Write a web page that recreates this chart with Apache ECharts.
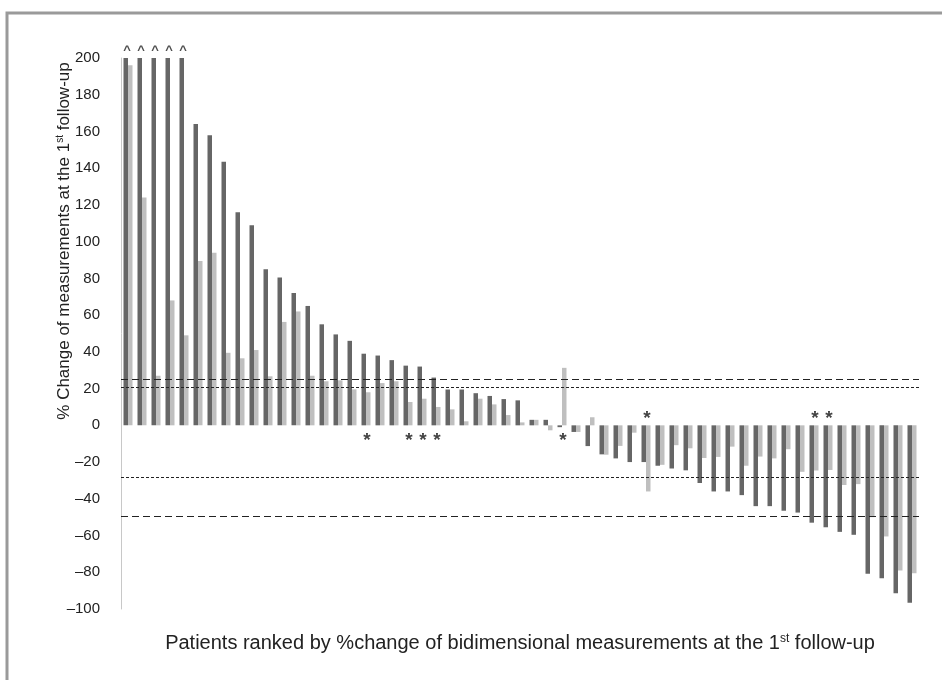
<!DOCTYPE html>
<html>
<head>
<meta charset="utf-8">
<script src="https://cdn.jsdelivr.net/npm/echarts@6/dist/echarts.min.js"></script>
<style>
  html, body { margin: 0; padding: 0; background: #fff; }
  #chart { width: 942px; height: 680px; }
</style>
</head>
<body>
<div id="chart"></div>
<script>
// patients, ranked
var patients = ['1','2','3','4','5','6','7','8','9','10','11','12','13','14','15','16','17','18','19','20',
    '21','22','23','24','25','26','27','28','29','30','31','32','33','34','35','36','37','38','39','40',
    '41','42','43','44','45','46','47','48','49','50','51','52','53','54','55','56','57'];

// % change, dark bars (bidimensional)
var biChange = [200, 200, 200, 200, 200, 164, 158, 143.5, 116, 109,
    85, 80.5, 72, 65, 55, 49.5, 46, 39, 38, 35.5,
    32.5, 32, 26, 19.5, 19.5, 17.5, 16, 14.3, 13.6, 3,
    3, -1, -3.6, -11.3, -15.8, -18, -20, -20, -22, -23.5,
    -24.5, -31.4, -36, -36, -38, -44, -44, -46.5, -47.5, -53,
    -55.5, -58, -59.6, -80.8, -83.2, -91.4, -96.6];

// % change, light bars (unidimensional)
var uniChange = [196, 124, 27, 68, 49, 89.5, 94, 39.5, 36.5, 41,
    26.7, 56.3, 62, 27, 24, 24.5, 19.6, 18, 23, 24,
    12.7, 14.5, 10, 8.7, 2.2, 14.5, 11.4, 5.6, 1.6, 3,
    -2.7, 31.3, -3.6, 4.4, -16, -11.2, -4, -36, -21.5, -10.8,
    -12.5, -17.8, -17.2, -11.6, -22, -17, -18, -13, -25.3, -24.6,
    -24.3, -32.5, -32, -50, -60.5, -79, -80.5];

// threshold lines
var biCut = [25, -49.5];
var uniCut = [21, -28];

// patients marked (1-based rank)
var cappedAt200 = [1, 2, 3, 4, 5];
var starBelow = [18, 21, 22, 23, 32];
var starAbove = [38, 50, 51];

var yTicks = [-100, 200, 20];

(function () {
    var myChart = echarts.init(document.getElementById('chart'));
    var font = '"Liberation Sans", Arial, sans-serif';

    function marks(list, y) {
        return list.map(function (p) { return [p - 1, y]; });
    }

    var cutLines = [
        {yAxis: biCut[0], lineStyle: {type: [7, 4]}},
        {yAxis: uniCut[0], lineStyle: {type: [3, 2]}},
        {yAxis: uniCut[1], lineStyle: {type: [3, 2]}},
        {yAxis: biCut[1], lineStyle: {type: [7, 4]}}
    ];

    myChart.setOption({
        animation: false,
        textStyle: {fontFamily: font},
        grid: {left: 121, right: 23, top: 58, bottom: 71},
        graphic: [
            {
                type: 'rect', silent: true, z: -10,
                shape: {x: 7, y: 13, width: 1000, height: 700},
                style: {fill: 'none', stroke: '#9a9a9a', lineWidth: 3}
            },
            {
                type: 'text', x: 64, y: 241, rotation: Math.PI / 2,
                style: {
                    text: '% Change of measurements at the 1{sup|st} follow-up',
                    fontFamily: font, fontSize: 17, fill: '#222',
                    align: 'center', verticalAlign: 'middle',
                    rich: {sup: {fontSize: 10, fontFamily: font, fill: '#222', verticalAlign: 'top'}}
                }
            }
        ],
        xAxis: {
            type: 'category',
            data: patients,
            axisLine: {show: false, onZero: false},
            axisTick: {show: false},
            axisLabel: {show: false},
            name: 'Patients ranked by %change of bidimensional measurements at the 1{sup|st} follow-up',
            nameLocation: 'middle',
            nameGap: 24,
            nameTextStyle: {
                fontSize: 20, color: '#222', fontFamily: font,
                rich: {sup: {fontSize: 12, color: '#222', fontFamily: font, verticalAlign: 'top'}}
            }
        },
        yAxis: {
            type: 'value',
            min: yTicks[0],
            max: yTicks[1],
            interval: yTicks[2],
            axisLine: {show: true, lineStyle: {color: '#c8c8c8', width: 1}},
            axisTick: {show: false},
            splitLine: {show: false},
            axisLabel: {
                margin: 21, fontSize: 15, color: '#222', fontFamily: font,
                formatter: function (v) { return String(v).replace('-', '\u2013'); }
            }
        },
        series: [
            {
                type: 'bar', name: 'bidimensional',
                data: biChange,
                barWidth: 4.5, barGap: '0%',
                itemStyle: {color: '#666666'},
                markLine: {
                    silent: true, symbol: 'none',
                    label: {show: false},
                    lineStyle: {color: '#222', width: 1.2},
                    data: cutLines
                }
            },
            {
                type: 'bar', name: 'unidimensional',
                data: uniChange,
                barWidth: 4.5,
                itemStyle: {color: '#bfbfbf'}
            },
            {
                type: 'scatter', clip: false, silent: true,
                symbolSize: 1, itemStyle: {color: 'rgba(0,0,0,0)'},
                data: marks(starBelow, -7).concat(marks(starAbove, 5)),
                label: {
                    show: true, position: 'inside', formatter: '*',
                    fontSize: 19, fontWeight: 'bold', color: '#111', fontFamily: font, offset: [1, 3]
                }
            },
            {
                type: 'scatter', clip: false, silent: true,
                symbolSize: 1, itemStyle: {color: 'rgba(0,0,0,0)'},
                data: marks(cappedAt200, 205),
                label: {
                    show: true, position: 'inside', formatter: '^',
                    fontSize: 13, fontWeight: 'bold', color: '#222', fontFamily: font, offset: [-1, 2]
                }
            }
        ]
    });
})();
</script>
</body>
</html>
